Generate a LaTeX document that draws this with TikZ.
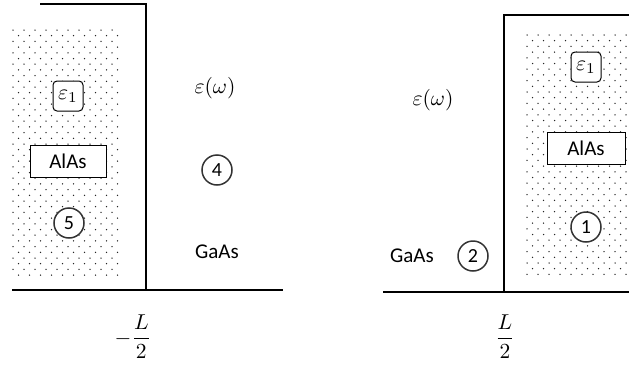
\documentclass[tikz,border=0pt]{standalone}
\usepackage{amsmath}
\usepackage{fontspec}
\setsansfont{Carlito}
\usepackage{tikz}
\usetikzlibrary{positioning}

\tikzset{
  wall/.style={line width=2.6pt, line cap=rect},
  dotfill/.style={fill=black!85},
  layerbox/.style={draw, line width=1pt, fill=white, minimum width=76pt, minimum height=32pt, inner sep=0pt, font=\sffamily\fontsize{21}{24}\selectfont},
  epsbox/.style={draw, rounded corners=4pt, line width=1pt, fill=white, minimum size=30pt, inner sep=0pt},
  regionmark/.style={draw, circle, line width=1.5pt, draw=black!80, fill=white, minimum size=30pt, inner sep=0pt, font=\sffamily\fontsize{20}{22}\selectfont},
  material/.style={font=\sffamily\fontsize{21}{24}\selectfont},
  mathlabel/.style={scale=2.15}
}

\begin{document}
\begin{tikzpicture}[x=1pt, y=-1pt]
    \useasboundingbox (0,0) rectangle (629,367);

    % Dotted AlAs layers (staggered rows)
    \foreach \r [evaluate=\r as \yy using 30+5.7*\r,
                 evaluate=\r as \xo using {13+5.5*mod(\r,2)}] in {0,...,43}
      \foreach \c in {0,...,9}
        \fill[dotfill] (\xo+11*\c,\yy) circle (0.75);
    \foreach \r [evaluate=\r as \yy using 35+5.7*\r,
                 evaluate=\r as \xo using {527+5.5*mod(\r,2)}] in {0,...,42}
      \foreach \c in {0,...,9}
        \fill[dotfill] (\xo+11*\c,\yy) circle (0.75);

    % Left interface at -L/2
    \coordinate (LT) at (41,4);
    \coordinate (LC) at (146,4);
    \coordinate (LB) at (146,290);
    \draw[wall] (LT) -- (LC) -- (LB);
    \draw[wall] (13,290) -- (282,290);

    \node[epsbox] (epsA) at (68,96) {\scalebox{2.15}{$\varepsilon_1$}};
    \node[layerbox] (alasA) at (68,161) {AlAs};
    \node[regionmark] (five) at (69,223) {5};

    \node[mathlabel] (epswA) at (215,88) {$\varepsilon(\omega)$};
    \node[regionmark] (four) at (217,170) {4};
    \node[material] (gaasA) at (217,252) {GaAs};
    \node[mathlabel] (minusL) at (133,337) {$-\dfrac{L}{2}$};

    % Right interface at L/2
    \coordinate (RT) at (629,15);
    \coordinate (RC) at (504,15);
    \coordinate (RB) at (504,292);
    \draw[wall] (RT) -- (RC) -- (RB);
    \draw[wall] (384,292) -- (629,292);

    \node[epsbox] (epsB) at (586,67) {\scalebox{2.15}{$\varepsilon_1$}};
    \node[layerbox, minimum width=78pt] (alasB) at (586,148) {AlAs};
    \node[regionmark] (one) at (586,227) {1};

    \node[mathlabel] (epswB) at (433,100) {$\varepsilon(\omega)$};
    \node[material] (gaasB) at (412,256) {GaAs};
    \node[regionmark] (two) at (473,256) {2};
    \node[mathlabel] (plusL) at (505,337) {$\dfrac{L}{2}$};
\end{tikzpicture}
\end{document}
